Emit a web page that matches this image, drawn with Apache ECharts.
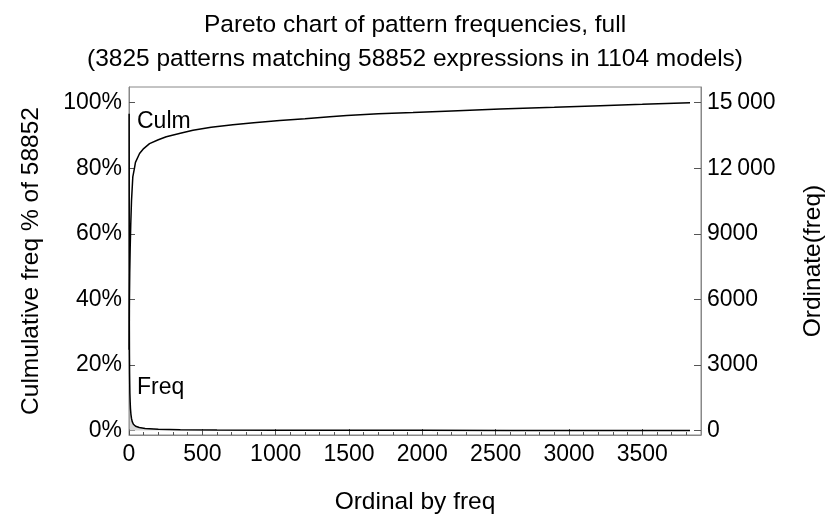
<!DOCTYPE html>
<html>
<head>
<meta charset="utf-8">
<script src="https://cdn.jsdelivr.net/npm/echarts@6/dist/echarts.min.js"></script>
<style>
  html, body { margin: 0; padding: 0; background: #fff; }
  #chart { width: 830px; height: 523px; }
</style>
</head>
<body>
<div id="chart"></div>
<script>
const culmOrdinal = [1, 2, 3, 5, 8, 12, 17, 26, 37, 44, 72, 100, 140, 200, 254, 350, 436, 560, 708, 850,
  1028, 1200, 1369, 1485, 1700, 1936, 2200, 2530, 2900, 3213, 3500, 3825];
const culmPercent = [24.6, 34, 40, 48, 55.5, 63, 70, 77.4, 80, 81.8, 84.5, 86, 87.5, 88.7, 89.6, 90.7, 91.6, 92.5, 93.3, 93.9,
  94.6, 95.1, 95.7, 96.1, 96.6, 97.0, 97.5, 98.1, 98.6, 99.1, 99.5, 100];

const freqOrdinal = [1, 2, 3, 4, 5, 6, 8, 10, 13, 17, 22, 30, 45, 70, 110, 200, 350, 600, 1000, 1450, 2000, 2600, 3825];
const freqCount = [14500, 5500, 3500, 2600, 2100, 1700, 1300, 1000, 750, 550, 400, 280, 190, 130, 90, 50, 28, 15, 7, 3, 2, 1, 1];

const xTicks = [0, 500, 1000, 1500, 2000, 2500, 3000, 3500];
const pctTicks = [0, 20, 40, 60, 80, 100];
const freqTicks = [0, 3000, 6000, 9000, 12000, 15000];

const xMinor = [];
for (let v = 0; v <= 3800; v += 100) xMinor.push(v);

const font = 'Liberation Sans';
const fs = 23;
const nameFs = 24.5;

const chart = echarts.init(document.getElementById('chart'));

const tickStyle = { color: '#555', width: 1 };
const frameLine = { show: true, onZero: false, lineStyle: { color: '#888', width: 1 } };

chart.setOption({
  animation: false,
  textStyle: { fontFamily: font },
  title: {
    text: 'Pareto chart of pattern frequencies, full\n(3825 patterns matching 58852 expressions in 1104 models)',
    left: 'center',
    top: 3,
    textStyle: { fontFamily: font, fontSize: nameFs, fontWeight: 'normal', color: '#000', lineHeight: 34 }
  },
  grid: {
    left: 129, right: 129, top: 87, bottom: 88,
    containLabel: false, outerBoundsMode: 'none',
    show: true, borderColor: '#888', borderWidth: 1, backgroundColor: 'transparent'
  },
  xAxis: [{
    type: 'value', min: 0, max: 3900,
    name: 'Ordinal by freq', nameLocation: 'middle', nameGap: 55,
    nameTextStyle: { fontFamily: font, fontSize: nameFs, color: '#000' },
    axisLine: frameLine,
    splitLine: { show: false },
    axisTick: { show: true, inside: true, length: 6, lineStyle: tickStyle, customValues: xTicks },
    axisLabel: { customValues: xTicks, formatter: v => String(v), fontFamily: font, fontSize: fs, color: '#000', margin: 8 }
  }, {
    type: 'value', min: 0, max: 3900, position: 'bottom',
    axisLine: { show: false, onZero: false },
    splitLine: { show: false },
    axisLabel: { show: false },
    axisTick: { show: true, inside: true, length: 3, lineStyle: tickStyle, customValues: xMinor }
  }],
  yAxis: [{
    type: 'value', min: -1.4, max: 104.8, position: 'left',
    name: 'Culmulative freq % of 58852', nameLocation: 'middle', nameGap: 85, nameRotate: 90,
    nameTextStyle: { fontFamily: font, fontSize: nameFs, color: '#000' },
    axisLine: frameLine,
    splitLine: { show: false },
    axisTick: { show: true, inside: true, length: 6, lineStyle: tickStyle, customValues: pctTicks },
    axisLabel: { customValues: pctTicks, formatter: v => v + '%', fontFamily: font, fontSize: fs, color: '#000', margin: 7 }
  }, {
    type: 'value', min: -210, max: 15720, position: 'right',
    name: 'Ordinate(freq)', nameLocation: 'middle', nameGap: 100, nameRotate: 90,
    nameTextStyle: { fontFamily: font, fontSize: nameFs, color: '#000' },
    axisLine: frameLine,
    splitLine: { show: false },
    axisTick: { show: true, inside: true, length: 7, lineStyle: tickStyle, customValues: freqTicks },
    axisLabel: {
      customValues: freqTicks, fontFamily: font, fontSize: fs, color: '#000', margin: 6,
      formatter: v => v >= 10000 ? String(v).slice(0, 2) + '\u2009' + String(v).slice(2) : String(v)
    }
  }],
  graphic: [
    { type: 'text', left: 137, top: 110, style: { text: 'Culm', font: fs + 'px "' + font + '"', fill: '#000' } },
    { type: 'text', left: 137, top: 376, style: { text: 'Freq', font: fs + 'px "' + font + '"', fill: '#000' } }
  ],
  series: [{
    name: 'Freq', type: 'line', xAxisIndex: 0, yAxisIndex: 1,
    data: freqOrdinal.map((o, i) => [o, freqCount[i]]),
    showSymbol: false,
    lineStyle: { color: '#000', width: 1.5 },
    areaStyle: { color: '#d6d6d6', opacity: 1 },
    z: 2
  }, {
    name: 'Culm', type: 'line', xAxisIndex: 0, yAxisIndex: 0,
    data: culmOrdinal.map((o, i) => [o, culmPercent[i]]),
    showSymbol: false,
    lineStyle: { color: '#000', width: 1.5 },
    z: 3
  }]
});
</script>
</body>
</html>
